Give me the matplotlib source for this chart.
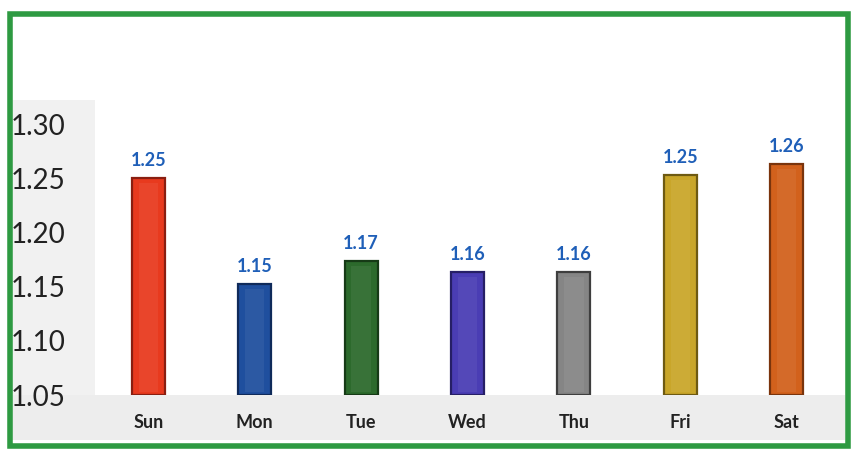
import matplotlib.pyplot as plt
from matplotlib.patches import Rectangle

# values
days = ['Sun', 'Mon', 'Tue', 'Wed', 'Thu', 'Fri', 'Sat']
values = [1.251, 1.153, 1.174, 1.164, 1.164, 1.254, 1.264]
bar_colors = ['#E83A1E', '#1F4F9E', '#2C6A2C', '#4A3DB4', '#858585', '#C9A62A', '#D2611C']
edge_colors = ['#8A1E10', '#0F2A5A', '#163A16', '#261F66', '#3E3E3E', '#6E5A12', '#7A340C']
yticks = [1.05, 1.10, 1.15, 1.20, 1.25, 1.30]

W, H = 855, 453
fig = plt.figure(figsize=(W / 100, H / 100), dpi=100)
fig.patch.set_facecolor('white')

# light grey panel areas left of and below the plot
fig.patches.append(Rectangle((12 / W, 1 - 440 / H), 83 / W, 340 / H,
                             transform=fig.transFigure, facecolor='#f1f1f1', edgecolor='none', zorder=-5))
fig.patches.append(Rectangle((12 / W, 1 - 440 / H), 833 / W, 45 / H,
                             transform=fig.transFigure, facecolor='#ededed', edgecolor='none', zorder=-5))

# plot area
left, right, bottom, top = 95, 840, 395, 100
ax = fig.add_axes([left / W, 1 - bottom / H, (right - left) / W, (bottom - top) / H])
ax.set_facecolor('white')

x = range(len(days))
ax.bar(x, [v - 1.05 for v in values], bottom=1.05, width=0.31,
       color=bar_colors, edgecolor=edge_colors, linewidth=1.6, zorder=2)
# faint highlight strip to hint at the bevel
ax.bar(x, [v - 1.05 - 0.008 for v in values], bottom=1.053, width=0.18,
       color='white', alpha=0.06, linewidth=0, zorder=3)

for i, v in enumerate(values):
    ax.text(i, v + 0.008, '%.2f' % v, ha='center', va='bottom', fontsize=13,
            fontweight='bold', color='#1F5FB8', family='Lato', clip_on=False)

ax.set_xlim(-0.5, len(days) - 0.5)
ax.set_ylim(1.05, 1.323)
ax.set_yticks(yticks)
ax.set_yticklabels(['%.2f' % t for t in yticks], fontsize=20, family='Lato', color='#222222')
ax.set_xticks(list(x))
ax.set_xticklabels(days, fontsize=13, fontweight='bold', family='Lato', color='#222222')
ax.tick_params(axis='both', length=0)
ax.tick_params(axis='x', pad=14)
ax.tick_params(axis='y', pad=21)
for s in ax.spines.values():
    s.set_visible(False)

# green frame round the chart
fig.patches.append(Rectangle((10 / W, 1 - 446 / H), 838 / W, 432 / H,
                             transform=fig.transFigure, fill=False, edgecolor='#2E9A42',
                             linewidth=4, zorder=5))

plt.savefig('out.png', dpi=100)
